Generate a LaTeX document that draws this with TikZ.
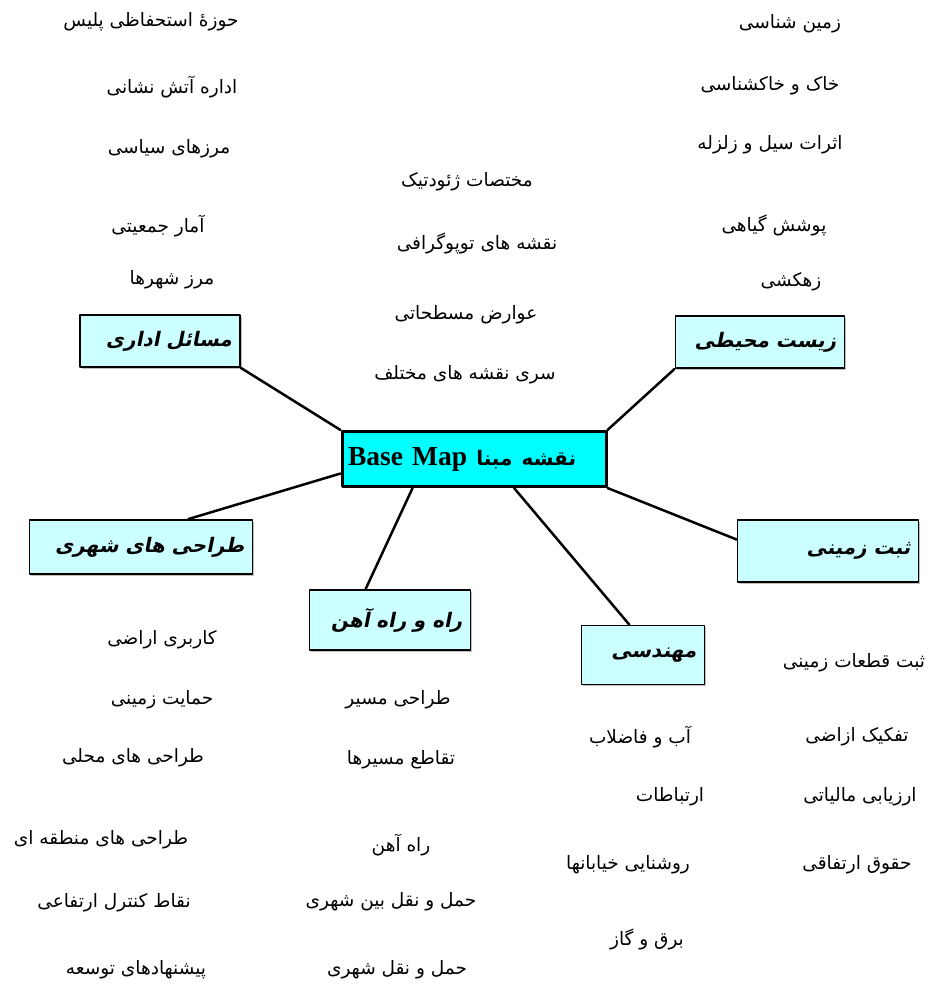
\documentclass[tikz,border=0pt]{standalone}
\usepackage{fontspec}
\setmainfont{Liberation Serif}
\newfontfamily\arabicfont[Script=Arabic]{DejaVu Sans}
\newfontfamily\arabictopic[Script=Arabic, FakeSlant=0.2]{DejaVu Sans Bold}
\newfontfamily\arabicbold[Script=Arabic]{DejaVu Sans Bold}
\TeXXeTstate=1
\usetikzlibrary{calc,shadows}
\definecolor{boxcyan}{HTML}{CCFFFF}
\definecolor{basecyan}{HTML}{00FFFF}
\newcommand{\fa}[1]{\beginR #1\endR}
\begin{document}
\begin{tikzpicture}[x=1pt, y=-1pt, line cap=round, line join=round,
	item/.style={font=\fontsize{18.5}{20}\arabicfont, inner sep=0pt},
	topic/.style={draw, line width=1.8pt, fill=boxcyan, inner xsep=8pt, inner ysep=0pt, align=right,
		font=\fontsize{20}{22}\arabictopic,
		drop shadow={shadow xshift=1.5pt, shadow yshift=-1.5pt, fill=gray!50, opacity=1}},
	link/.style={line width=2.5pt}]
	\useasboundingbox (0,0) rectangle (932,989);
	% مرکز
	\node[draw, line width=3pt, fill=basecyan, minimum width=264pt, minimum height=55pt, inner xsep=6pt, text width=252pt, align=left,
		font=\fontsize{27.5}{28}\bfseries] (base) at (474,459) {Base Map {\fontsize{20}{24}\arabicbold\beginR نقشه مبنا\endR}};
	% سرفصل ها
	\node[topic, text width=144pt, minimum height=52pt] (admin) at (160,341) {\fa{مسائل اداری}};
	\node[topic, text width=153pt, minimum height=52pt] (env) at (760,342) {\fa{زیست محیطی}};
	\node[topic, text width=207pt, minimum height=54pt] (urban) at (141,547) {\fa{طراحی های شهری}};
	\node[topic, text width=145pt, minimum height=60pt] (road) at (390,620) {\fa{راه و راه آهن}};
	\node[topic, text width=107pt, minimum height=59pt] (eng) at (643,655) {\fa{مهندسی}};
	\node[topic, text width=165pt, minimum height=62pt] (cad) at (828,551) {\fa{ثبت زمینی}};
	% اتصال ها
	\draw[link] (base.north west) -- (admin.south east);
	\draw[link] (base.north east) -- (env.south west);
	\draw[link] ($(base.west)!0.5!(base.south west)$) -- ($(urban.north west)!0.71!(urban.north east)$);
	\draw[link] ($(base.south west)!0.27!(base.south east)$) -- ($(road.north west)!0.35!(road.north east)$);
	\draw[link] ($(base.south west)!0.65!(base.south east)$) -- ($(eng.north west)!0.39!(eng.north east)$);
	\draw[link] (base.south east) -- ($(cad.north west)!0.32!(cad.south west)$);
	% زیرمجموعه ها
	\foreach \x/\y/\t [count=\i] in {151/22/حوزهٔ استحفاظی پلیس, 172/87/اداره آتش نشانی, 169/149/مرزهای سیاسی, 158/226/آمار جمعیتی, 172/280/مرز شهرها}
		\node[item] (adm\i) at (\x,\y) {\fa{\t}};
	\foreach \x/\y/\t [count=\i] in {467/182/مختصات ژئودتیک, 477/243/نقشه های توپوگرافی, 466/315/عوارض مسطحاتی, 465/375/سری نقشه های مختلف}
		\node[item] (map\i) at (\x,\y) {\fa{\t}};
	\foreach \x/\y/\t [count=\i] in {790/24/زمین شناسی, 770/86/خاک و خاکشناسی, 770/145/اثرات سیل و زلزله, 774/225/پوشش گیاهی, 791/282/زهکشی}
		\node[item] (env\i) at (\x,\y) {\fa{\t}};
	\foreach \x/\y/\t [count=\i] in {162/640/کاربری اراضی, 162/700/حمایت زمینی, 133/758/طراحی های محلی, 101/840/طراحی های منطقه ای, 114/903/نقاط کنترل ارتفاعی, 136/970/پیشنهادهای توسعه}
		\node[item] (urb\i) at (\x,\y) {\fa{\t}};
	\foreach \x/\y/\t [count=\i] in {398/700/طراحی مسیر, 401/760/تقاطع مسیرها, 401/845/راه آهن, 391/902/حمل و نقل بین شهری, 397/970/حمل و نقل شهری}
		\node[item] (rd\i) at (\x,\y) {\fa{\t}};
	\foreach \x/\y/\t [count=\i] in {640/737/آب و فاضلاب, 670/797/ارتباطات, 628/865/روشنایی خیابانها, 647/939/برق و گاز}
		\node[item] (eng\i) at (\x,\y) {\fa{\t}};
	\foreach \x/\y/\t [count=\i] in {854/663/ثبت قطعات زمینی, 857/737/تفکیک ازاضی, 860/797/ارزیابی مالیاتی, 857/865/حقوق ارتفاقی}
		\node[item] (cad\i) at (\x,\y) {\fa{\t}};
\end{tikzpicture}
\end{document}
